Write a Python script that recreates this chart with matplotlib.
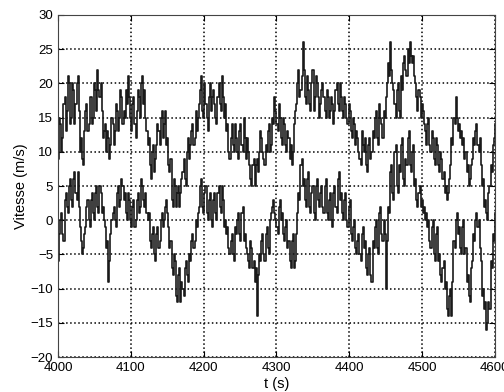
import numpy as np
import matplotlib
matplotlib.use("Agg")
import matplotlib.pyplot as plt

# time axis: one sample every 1.5 s from 4000 to 4600
t_start = 4000
t_step = 1.5

# upper wind speed record (m/s), 20 samples per row (30 s)
upper_speed = [
    9, 15, 14, 10, 12, 17, 18, 13, 16, 21, 20, 14, 15, 20, 19, 14, 17, 20, 21, 16,
    10, 12, 9, 8, 13, 16, 17, 13, 14, 18, 18, 14, 15, 20, 19, 16, 22, 19, 18, 20,
    16, 12, 13, 14, 10, 13, 12, 9, 11, 15, 14, 11, 13, 17, 16, 13, 15, 19, 18, 14,
    16, 15, 19, 17, 21, 18, 15, 13, 17, 18, 14, 12, 16, 19, 18, 15, 20, 21, 17, 19,
    15, 13, 11, 12, 8, 6, 10, 11, 7, 9, 11, 14, 13, 11, 15, 16, 12, 14, 16, 11,
    12, 8, 7, 9, 3, 2, 6, 5, 2, 4, 5, 2, 4, 6, 7, 9, 6, 5, 10, 12,
    9, 11, 13, 14, 11, 12, 16, 13, 15, 17, 19, 21, 16, 15, 20, 17, 15, 13, 18, 20,
    16, 18, 19, 17, 15, 14, 18, 20, 17, 16, 21, 18, 15, 17, 13, 14, 10, 9, 12, 14,
    11, 10, 14, 12, 10, 9, 13, 14, 11, 10, 15, 12, 9, 12, 10, 8, 6, 5, 8, 9,
    5, 8, 9, 7, 10, 13, 12, 10, 9, 8, 11, 10, 13, 14, 10, 11, 15, 14, 18, 16,
    14, 13, 17, 15, 12, 11, 15, 14, 11, 10, 13, 12, 9, 11, 8, 10, 14, 16, 17, 20,
    22, 18, 19, 21, 26, 22, 18, 17, 21, 19, 17, 16, 20, 22, 16, 18, 21, 20, 18, 15,
    17, 19, 20, 18, 16, 15, 19, 18, 15, 16, 18, 17, 14, 16, 19, 20, 17, 16, 20, 18,
    16, 15, 18, 17, 15, 14, 17, 16, 13, 12, 15, 14, 11, 13, 12, 10, 9, 8, 13, 11,
    10, 12, 8, 7, 11, 12, 9, 10, 13, 12, 15, 16, 12, 11, 17, 15, 14, 12, 16, 15,
    18, 20, 23, 21, 26, 22, 20, 19, 17, 15, 19, 20, 16, 15, 21, 19, 23, 24, 22, 21,
    25, 23, 26, 24, 23, 24, 21, 20, 18, 16, 19, 18, 15, 17, 16, 14, 13, 11, 14, 15,
    11, 10, 13, 12, 9, 8, 12, 11, 8, 7, 10, 9, 6, 7, 4, 5, 3, 4, 6, 8,
    12, 11, 15, 14, 18, 15, 13, 14, 12, 13, 11, 12, 9, 10, 7, 8, 5, 6, 8, 9,
    12, 11, 13, 14, 11, 10, 12, 8, 5, 6, 2, 3, 1, 0, 4, 5, 8, 7, 11, 12,
    14,
]

# lower wind speed record (m/s), 20 samples per row (30 s)
lower_speed = [
    -6, -2, 0, 1, -2, -3, 3, 4, 2, 1, 5, 6, 3, 2, 6, 7, 4, 3, 7, 2,
    -1, -3, -5, -4, -2, -1, 2, 3, 0, -1, 3, 4, 1, 0, 4, 5, 2, 1, 5, 4,
    1, 2, 0, -1, -4, -3, -9, -6, -2, 0, 1, 2, 0, -1, 4, 5, 2, 3, 6, 5,
    3, 4, 1, 0, 4, 3, 0, -1, 2, 3, -1, 0, 3, 4, 1, 2, 6, 5, 3, 2,
    4, 1, 0, 1, -3, -4, -2, -1, -5, -6, -2, -1, -4, -3, 0, 1, -1, 0, 2, 3,
    1, -1, -4, -3, -7, -8, -5, -6, -11, -12, -8, -7, -12, -9, -10, -11, -7, -6, -8, -9,
    -5, -6, -3, -2, -4, -3, 0, -1, 1, 2, 5, 6, 2, 1, 4, 5, 1, 0, 3, 4,
    0, -1, 3, 4, 1, 0, 4, 5, 2, 1, 5, 3, -1, 0, -2, -1, -4, -5, -3, -2,
    -5, -6, -1, -2, 0, 1, -2, -3, 1, 2, -3, -2, -4, -5, -6, -7, -3, -4, -7, -6,
    -9, -7, -14, -8, -5, -6, -3, -2, -5, -6, -2, -1, -4, -5, 0, 1, 2, 3, 1, 0,
    -1, -2, 2, 3, 0, 1, -2, -3, -1, 0, -4, -3, -6, -7, -3, -2, -7, -6, -2, 1,
    4, 3, 8, 9, 5, 6, 3, 2, 6, 7, 2, 1, 4, 5, 1, 0, 5, 6, 3, 2,
    4, 5, 2, 1, 5, 6, 1, 0, 3, 4, 0, -1, 4, 5, 2, 1, 6, 7, 3, 4,
    1, 0, 3, 4, 0, -1, 2, 3, -2, -3, -1, 0, -4, -5, -3, -2, -5, -6, -2, -1,
    -4, -3, -7, -8, -5, -4, -8, -9, -3, -4, -1, 0, -4, -5, 1, 2, -2, -3, 0, -2,
    -10, -3, 2, 1, 7, 8, 4, 3, 10, 11, 5, 4, 8, 7, 11, 12, 6, 5, 9, 8,
    12, 13, 8, 7, 10, 11, 5, 6, 3, 2, 4, 5, 2, 3, 1, 2, 0, 1, -1, 0,
    -3, -4, -1, 0, -5, -6, -2, -1, -6, -5, -8, -9, -7, -6, -10, -9, -13, -14, -11, -10,
    -14, -9, -3, -4, 0, 1, -2, -1, -4, -5, -1, 0, -5, -4, -9, -8, -11, -12, -7, -6,
    -2, -3, 0, 1, -1, 0, -4, -6, -11, -10, -13, -12, -16, -15, -12, -13, -6, -7, -2, -3,
    1,
]

x_ticks = [4000, 4100, 4200, 4300, 4400, 4500, 4600]
y_ticks = [-20, -15, -10, -5, 0, 5, 10, 15, 20, 25, 30]

t = t_start + t_step * np.arange(len(upper_speed))

plt.rcParams['font.family'] = ['Liberation Sans', 'DejaVu Sans']

fig = plt.figure(figsize=(5.04, 3.92), dpi=100)
ax = fig.add_axes([0.115, 0.089, 0.867, 0.873])

# sampled signal, drawn as held steps like the original scope trace
ax.plot(t, upper_speed, color='#1a1a1a', linewidth=1.2, drawstyle='steps-post')
ax.plot(t, lower_speed, color='#1a1a1a', linewidth=1.2, drawstyle='steps-post')

ax.set_xlim(4000, 4600)
ax.set_ylim(-20, 30)
ax.set_xticks(x_ticks)
ax.set_yticks(y_ticks)
ax.tick_params(direction='in', length=4, labelsize=9.5, top=True, right=True)
ax.grid(True, linestyle=':', color='black', linewidth=1.1)
for s in ax.spines.values():
    s.set_color('#444444')

ax.set_xlabel('t (s)', fontsize=10.5, labelpad=2)
ax.set_ylabel('Vitesse (m/s)', fontsize=10.5, labelpad=2)

fig.savefig('out.png', dpi=100)
